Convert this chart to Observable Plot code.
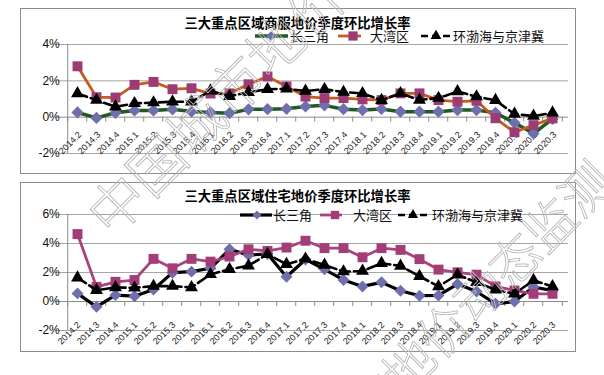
<!DOCTYPE html>
<html><head><meta charset="utf-8">
<script src="https://cdn.jsdelivr.net/npm/d3@7"></script>
<script src="https://cdn.jsdelivr.net/npm/@observablehq/plot@0.6"></script>
<style>
html,body{margin:0;padding:0;background:#fff;}
body{width:604px;height:375px;position:relative;overflow:hidden;font-family:"Noto Sans CJK SC",sans-serif;}
.frame{position:absolute;left:20px;width:556px;border:1px solid #8c8c8c;box-sizing:border-box;}
.plot{position:absolute;left:20px;}
.title{position:absolute;left:20px;width:555px;text-align:center;font-weight:bold;font-size:13.3px;line-height:12px;color:#000;white-space:nowrap;}
.lg{position:absolute;font-size:13px;line-height:12px;color:#111;white-space:nowrap;}
.sw{position:absolute;}
#wm{position:absolute;left:0;top:0;pointer-events:none;}
</style>
</head><body>
<script>
// ---- data ----
const quarters = ["2014.2","2014.3","2014.4","2015.1","2015.2","2015.3","2015.4","2016.1","2016.2","2016.3","2016.4","2017.1","2017.2","2017.3","2017.4","2018.1","2018.2","2018.3","2018.4","2019.1","2019.2","2019.3","2019.4","2020.1","2020.2","2020.3"];
const seriesNames = ["长三角","大湾区","环渤海与京津冀"];
const titles = ["三大重点区域商服地价季度环比增长率","三大重点区域住宅地价季度环比增长率"];
const watermarkText = "中国城市地价动态监测";

// 商服 (commercial), %
const csjCom = [0.26,-0.04,0.24,0.37,0.37,0.43,0.31,0.26,0.22,0.43,0.44,0.46,0.59,0.65,0.44,0.39,0.45,0.3,0.3,0.3,0.39,0.39,0.24,-0.31,-0.9,-0.1];
const dwqCom = [2.8,1.1,1.08,1.78,1.94,1.54,1.59,1.3,1.31,1.81,2.24,1.69,1.13,1.05,1.05,0.98,0.94,1.31,1.31,0.94,0.85,0.9,-0.06,-0.83,-0.44,-0.07];
const hbhCom = [1.3,0.94,0.57,0.76,0.8,0.85,0.85,1.45,1.15,1.37,1.54,1.56,1.44,1.54,1.38,1.31,0.93,1.31,0.95,1.05,1.41,1.13,0.93,0.17,0.06,0.24];

// 住宅 (residential), %
const csjRes = [0.56,-0.37,0.44,0.37,0.83,1.99,2.06,2.29,3.6,3.2,3.28,1.71,2.9,2.22,1.49,1.04,1.32,0.74,0.4,0.42,1.2,0.69,-0.16,0.0,1.0,0.75];
const dwqRes = [4.65,1.01,1.36,1.48,2.94,2.29,2.94,2.75,3.1,3.6,3.49,3.72,4.19,3.68,3.68,3.05,3.68,3.56,2.92,2.2,2.01,1.85,1.04,0.76,0.53,0.53];
const hbhRes = [1.64,0.78,0.97,0.94,1.06,1.06,0.97,1.87,2.22,2.47,3.26,2.57,2.94,2.52,2.06,2.1,2.64,2.45,1.74,1.04,1.85,1.32,0.81,0.53,1.46,1.04];

const yTicksCom = [-2,0,2,4];
const yTicksRes = [-2,0,2,4,6];

// ---- styles ----
const styleCom = [
  {line:"#215a21", marker:"#6f6fae", symbol:"diamond2", r:5.5, width:3.5, dash:null},
  {line:"#c65b1c", marker:"#9c3b74", symbol:"square", r:5.6, width:2.8, dash:null},
  {line:"#000", marker:"#000", symbol:"triangle", r:4.8, width:2.6, dash:"10,4"}
];
const styleRes = [
  {line:"#000", marker:"#6f6fae", symbol:"diamond2", r:5.4, width:3.2, dash:null},
  {line:"#a8437c", marker:"#a33d78", symbol:"square", r:5.6, width:2.8, dash:null},
  {line:"#000", marker:"#000", symbol:"triangle", r:4.8, width:2.6, dash:"10,4"}
];

function drawPanel(cfg) {
  const W = 555, mL = 40, mR = 7;
  const n = quarters.length;
  const step = (W - mL - mR) / n;
  const lo = cfg.ticks[0], hi = cfg.ticks[cfg.ticks.length - 1];
  const ppu = (cfg.height - cfg.mTop - cfg.mBottom) / (hi - lo);
  const rows = vals => quarters.map((q, i) => ({q, v: vals[i]}));
  const marks = [
    Plot.ruleY(cfg.ticks.filter(t => t !== 0), {y: d => d, stroke: "#a6a6a6", insetLeft: -5}),
    Plot.ruleX([quarters[0]], {x: d => d, dx: -step / 2, y1: () => lo, y2: () => hi, stroke: "#8c8c8c"}),
    Plot.ruleY([0], {y: d => d, stroke: "#8c8c8c", insetLeft: -5}),
    Plot.ruleX(quarters, {x: d => d, dx: -step / 2, y1: () => 0, y2: () => lo, insetBottom: -lo * ppu - 5, stroke: "#8c8c8c"}),
    Plot.ruleX([quarters[n - 1]], {x: d => d, dx: step / 2, y1: () => 0, y2: () => lo, insetBottom: -lo * ppu - 5, stroke: "#8c8c8c"}),
    Plot.text(cfg.ticks, {x: () => quarters[0], y: d => d, text: d => d + "%", textAnchor: "end", dx: -step / 2 - 8, fontSize: 12, fill: "#111"}),
    Plot.text(quarters, {x: d => d, y: () => 0, text: d => d, rotate: -45, textAnchor: "end", dx: cfg.labDx, dy: cfg.labDy, fontSize: 9, fill: "#222"})
  ];
  cfg.series.forEach((vals, k) => {
    const s = cfg.styles[k];
    marks.push(Plot.line(rows(vals), {x: "q", y: "v", stroke: s.line, strokeWidth: s.width, strokeDasharray: s.dash || undefined}));
    marks.push(Plot.dot(rows(vals), {x: "q", y: "v", symbol: s.symbol, r: s.r, fill: s.marker, stroke: "none"}));
  });
  const chart = Plot.plot({
    width: W, height: cfg.height,
    marginTop: cfg.mTop, marginBottom: cfg.mBottom, marginLeft: mL, marginRight: mR,
    x: {type: "point", domain: quarters, padding: 0.5, axis: null},
    y: {domain: [lo, hi], axis: null},
    style: {background: "transparent", fontFamily: "'Liberation Sans', Arial, sans-serif", overflow: "visible"},
    marks
  });
  const fr = document.createElement("div");
  fr.className = "frame"; fr.style.top = cfg.top + "px"; fr.style.height = cfg.frameH + "px";
  document.body.appendChild(fr);
  const wrap = document.createElement("div");
  wrap.className = "plot"; wrap.style.top = cfg.top + "px";
  wrap.appendChild(chart);
  document.body.appendChild(wrap);

  const t = document.createElement("div");
  t.className = "title"; t.textContent = cfg.title; t.style.top = (cfg.titleY - 6) + "px";
  document.body.appendChild(t);

  // legend
  cfg.legend.forEach((it, k) => {
    const s = cfg.styles[k];
    const w = it.x1 - it.x0;
    const svg = d3.select(document.body).append("svg").attr("class", "sw")
      .attr("width", w).attr("height", 14)
      .style("left", it.x0 + "px").style("top", (cfg.legendY - 7) + "px");
    svg.append("line").attr("x1", 0).attr("x2", w).attr("y1", 7).attr("y2", 7)
      .attr("stroke", s.line).attr("stroke-width", s.width)
      .attr("stroke-dasharray", s.dash ? "7,4" : null);
    svg.append("path").attr("transform", `translate(${it.m - it.x0},7)`)
      .attr("d", d3.symbol(s.symbol === "diamond2" ? d3.symbolDiamond2 : s.symbol === "square" ? d3.symbolSquare : d3.symbolTriangle, it.size)())
      .attr("fill", s.marker);
    const tx = document.createElement("div");
    tx.className = "lg"; tx.textContent = seriesNames[k];
    tx.style.left = it.tx + "px"; tx.style.top = (cfg.legendY - 6) + "px";
    document.body.appendChild(tx);
  });
}

drawPanel({
  top: 8, height: 166, frameH: 166, mTop: 36, mBottom: 21,
  ticks: yTicksCom, series: [csjCom, dwqCom, hbhCom], styles: styleCom,
  labDx: 2.5, labDy: 16, title: titles[0], titleY: 23, legendY: 35.5,
  legend: [
    {x0: 255, x1: 288, m: 271, tx: 290, size: 60},
    {x0: 338, x1: 361, m: 353, tx: 370, size: 85},
    {x0: 421, x1: 451, m: 436, tx: 453, size: 50}
  ]
});
drawPanel({
  top: 182, height: 170, frameH: 170, mTop: 32, mBottom: 22,
  ticks: yTicksRes, series: [csjRes, dwqRes, hbhRes], styles: styleRes,
  labDx: 1.5, labDy: 22, title: titles[1], titleY: 195.5, legendY: 215,
  legend: [
    {x0: 240, x1: 272, m: 257, tx: 273, size: 50},
    {x0: 320, x1: 342, m: 335, tx: 353, size: 70},
    {x0: 398, x1: 428, m: 413, tx: 432, size: 45}
  ]
});

// watermark
const wm = d3.select(document.body).append("svg").attr("id", "wm").attr("width", 604).attr("height", 375);
[{x: 112, y: 239, fs: 56}, {x: 263, y: 538, fs: 50}].forEach(p => {
  wm.append("text").attr("transform", `translate(${p.x},${p.y}) rotate(-45)`)
    .attr("font-family", "'Noto Sans CJK SC', sans-serif").attr("font-weight", 300)
    .attr("font-size", p.fs).attr("fill", "none").attr("stroke", "#b8b8b8").attr("stroke-width", 0.9)
    .text(watermarkText);
});
</script>
</body></html>
